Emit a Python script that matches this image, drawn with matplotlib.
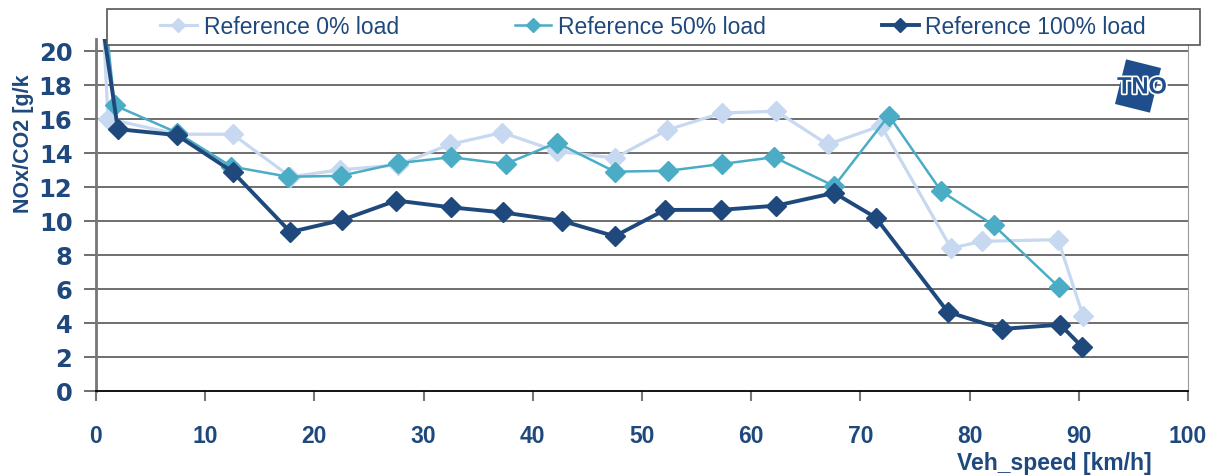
import matplotlib
matplotlib.use("Agg")
from matplotlib import pyplot as plt
from matplotlib.patches import Rectangle
import matplotlib.transforms as mtransforms
import matplotlib.patheffects as pe

# speeds [km/h] and NOx/CO2 [g/kg]
speed_0 = [0.6, 1.1, 7.5, 12.5, 17.8, 22.3, 27.7, 32.4, 37.2, 42.2, 47.5, 52.3,
           57.3, 62.3, 67.0, 71.9, 78.3, 81.1, 88.1, 90.4]
nox_0 = [22.5, 16.0, 15.1, 15.1, 12.6, 13.0, 13.3, 14.5, 15.2, 14.1, 13.7, 15.35,
         16.35, 16.45, 14.5, 15.6, 8.4, 8.8, 8.9, 4.4]

speed_50 = [0.7, 1.7, 7.4, 12.4, 17.6, 22.4, 27.7, 32.5, 37.5, 42.2, 47.5, 52.4,
            57.3, 62.1, 67.6, 72.6, 77.4, 82.2, 88.2]
nox_50 = [23.0, 16.8, 15.2, 13.2, 12.6, 12.65, 13.4, 13.75, 13.35, 14.6, 12.9, 12.95,
          13.35, 13.75, 12.05, 16.2, 11.75, 9.75, 6.1]

speed_100 = [0.5, 2.0, 7.4, 12.5, 17.8, 22.5, 27.5, 32.5, 37.3, 42.7, 47.5, 52.1,
             57.2, 62.3, 67.6, 71.4, 78.0, 83.0, 88.3, 90.3]
nox_100 = [22.0, 15.4, 15.05, 12.9, 9.35, 10.05, 11.2, 10.8, 10.5, 10.0, 9.1, 10.65,
           10.65, 10.9, 11.65, 10.2, 4.65, 3.65, 3.9, 2.6]

labels = ["Reference 0% load", "Reference 50% load", "Reference 100% load"]
colors = ["#c6d9f1", "#4bacc6", "#1f497d"]
txt = "#1f497d"

W, H = 1218, 477
fig = plt.figure(figsize=(W / 100, H / 100), dpi=100)
ax = fig.add_axes([96 / W, 1 - 392 / H, (1188 - 96) / W, (392 - 40) / H])

ax.plot(speed_0, nox_0, color=colors[0], lw=2.3, marker="D", ms=10, label=labels[0], zorder=3)
ax.plot(speed_50, nox_50, color=colors[1], lw=1.8, marker="D", ms=10, label=labels[1], zorder=4)
ax.plot(speed_100, nox_100, color=colors[2], lw=2.8, marker="D", ms=10.5, label=labels[2], zorder=5)

ax.set_xlim(0, 100)
ax.set_ylim(0, 20.7)
ax.set_xticks(range(0, 101, 10))
ax.set_yticks(range(0, 21, 2))
for y in range(2, 21, 2):
    ax.axhline(y, color="#555555", lw=1.2, zorder=1)

ax.spines["top"].set_visible(False)
ax.spines["right"].set_color("#999999")
ax.spines["left"].set_color("#777777")
ax.spines["left"].set_linewidth(2)
ax.spines["bottom"].set_color("black")
ax.spines["bottom"].set_linewidth(1.3)

ax.tick_params(axis="x", direction="out", length=7, width=1.5, color="#777777",
               pad=17, labelsize=16.5, labelcolor=txt)
ax.tick_params(axis="y", direction="out", length=9, width=1.2, color="#555555",
               pad=8, labelsize=17.5, labelcolor=txt)
for lab in ax.get_xticklabels():
    lab.set_fontweight("bold")
    lab.set_family("Liberation Sans")
for lab in ax.get_yticklabels():
    lab.set_fontweight("bold")
    lab.set_family("DejaVu Sans")

fig.text(1152 / W, 1 - 464 / H, "Veh_speed [km/h]", ha="right", va="center",
         fontsize=16.5, fontweight="bold", color=txt, family="Liberation Sans")
fig.text(23 / W, 1 - 213 / H, "NOx/CO2 [g/k", rotation=90, ha="center", va="bottom",
         fontsize=15.5, fontweight="bold", color=txt, family="Liberation Sans")

# legend box drawn separately, entries spread inside it
fig.patches.append(Rectangle((107 / W, 1 - 46 / H), (1200 - 107) / W, 36 / H,
                             transform=fig.transFigure, facecolor="white",
                             edgecolor="#555555", lw=1.2, zorder=10))
leg = fig.legend(loc="center left", bbox_to_anchor=(160 / W, 1 - 28 / H, (1146 - 160) / W, 0),
                 ncol=3, mode="expand", frameon=False, borderpad=0,
                 borderaxespad=0, handlelength=1.6, handletextpad=0.3, markerscale=0.7,
                 prop={"family": "Liberation Sans", "size": 16.5})
leg.set_zorder(11)
for t in leg.get_texts():
    t.set_color(txt)

# TNO logo (rough)
lax = fig.add_axes([1108 / W, 1 - 116 / H, 66 / W, 58 / H])
lax.set_xlim(0, 66)
lax.set_ylim(0, 58)
lax.axis("off")
rect = Rectangle((12, 6), 36, 46, facecolor="#1f4e8c", edgecolor="none")
rect.set_transform(mtransforms.Affine2D().rotate_deg_around(30, 29, -14) + lax.transData)
lax.add_patch(rect)
lax.text(34, 28, "TNO", ha="center", va="center", fontsize=17, fontweight="bold",
         color="#1f4e8c", family="Liberation Sans",
         path_effects=[pe.withStroke(linewidth=2.5, foreground="white")])

fig.savefig("out.png", dpi=100)
